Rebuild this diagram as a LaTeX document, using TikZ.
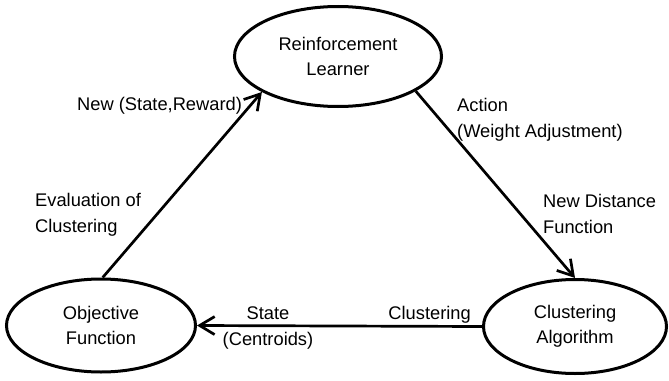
\documentclass[tikz,border=0pt]{standalone}
\usepackage{fontspec}
\setmainfont{Liberation Sans}
\usetikzlibrary{shapes.geometric,arrows.meta}
\tikzset{
  stateell/.style={draw, ellipse, line width=3pt, inner sep=0pt, align=center, font=\fontsize{18.3}{25}\selectfont},
  lbl/.style={inner sep=0pt, font=\fontsize{18.3}{26}\selectfont},
  conn/.style={line width=2.7pt, -{Straight Barb[length=15pt,width=18pt]}}
}
\begin{document}
\begin{tikzpicture}[x=1pt,y=-1pt]
\useasboundingbox (0,0) rectangle (669,380);
\node[stateell, minimum width=207pt, minimum height=100pt] (rl) at (338,56.5) {Reinforcement\\Learner};
\node[stateell, minimum width=189pt, minimum height=93pt] (obj) at (101,325.5) {Objective\\Function};
\node[stateell, minimum width=183pt, minimum height=94pt] (ca) at (575,326.5) {Clustering\\Algorithm};

\draw[conn] (obj.88) -- (rl.205);
\draw[conn] (rl.336) -- (ca.90);
\draw[conn] (ca.180) -- (obj.0);

\node[lbl, anchor=west] (l1) at (77,106) {New (State,Reward)};
\node[lbl, anchor=west, align=left] (l2) at (35,215) {Evaluation of\\Clustering};
\node[lbl, anchor=west, align=left] (l3) at (457,120) {Action\\(Weight Adjustment)};
\node[lbl, anchor=west, align=left] (l4) at (543,213.5) {New Distance\\Function};
\node[lbl, align=center] (l5) at (268,328.5) {State\\(Centroids)};
\node[lbl, anchor=east] (l6) at (471,315) {Clustering};
\end{tikzpicture}
\end{document}
